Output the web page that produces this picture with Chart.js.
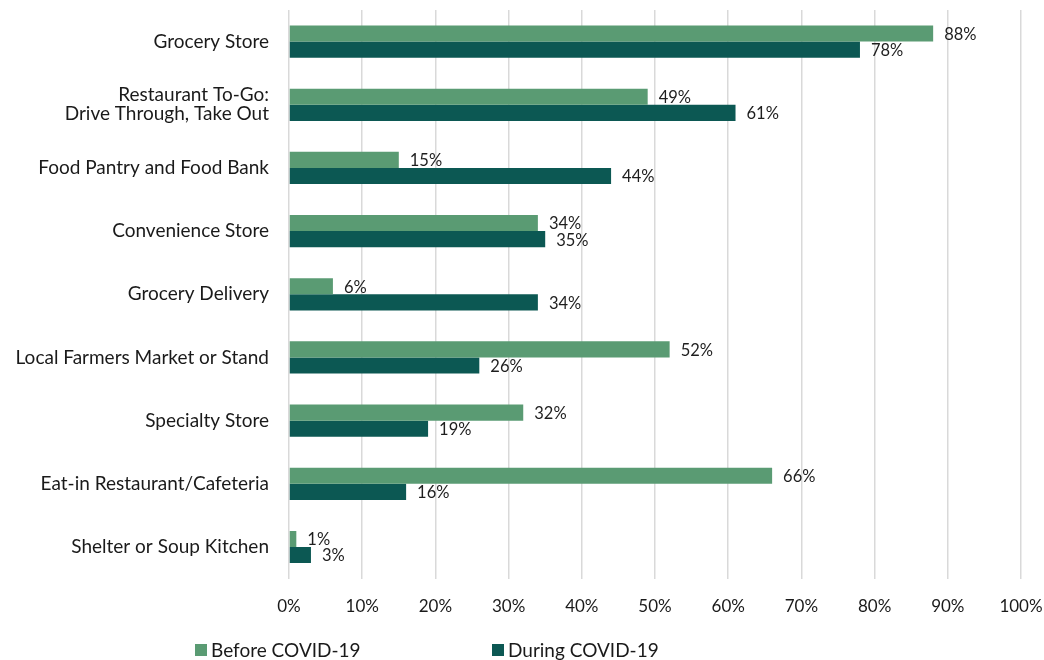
<!DOCTYPE html>
<html>
<head>
<meta charset="utf-8">
<script src="https://cdn.jsdelivr.net/npm/chart.js@4/dist/chart.umd.min.js"></script>
<style>
  html, body { margin: 0; padding: 0; background: #fff; }
  #wrap { width: 1044px; height: 660px; position: relative; }
</style>
</head>
<body>
<div id="wrap"><canvas id="chart"></canvas></div>
<script>
// categories, top to bottom
var places = [
    "Grocery Store",
    ["Restaurant To-Go:", "Drive Through, Take Out"],
    "Food Pantry and Food Bank",
    "Convenience Store",
    "Grocery Delivery",
    "Local Farmers Market or Stand",
    "Specialty Store",
    "Eat-in Restaurant/Cafeteria",
    "Shelter or Soup Kitchen"
];
var beforeCovid = [88, 49, 15, 34, 6, 52, 32, 66, 1];
var duringCovid = [78, 61, 44, 35, 34, 26, 19, 16, 3];
var seriesNames = ["Before COVID-19", "During COVID-19"];
var xTicks = [0, 10, 20, 30, 40, 50, 60, 70, 80, 90, 100];

var FONT = "Lato";

//Writes the % value right after each bar
var barLabels = {
    id: 'barLabels',
    afterDatasetsDraw: function(chart){
        var ctx = chart.ctx;
        ctx.save();
        ctx.font = "16.5px " + FONT;
        ctx.fillStyle = "#1e1e1e";
        ctx.textAlign = "left";
        ctx.textBaseline = "middle";
        chart.data.datasets.forEach(function(ds, i){
            chart.getDatasetMeta(i).data.forEach(function(bar, j){
                ctx.fillText(ds.data[j] + "%", bar.x + 11, bar.y + 1);
            });
        });
        ctx.restore();
    }
};

//Legend is not centered in the reference, so it is drawn by hand
var bottomLegend = {
    id: 'bottomLegend',
    afterDraw: function(chart){
        var ctx = chart.ctx;
        var xs = [195, 492];
        ctx.save();
        ctx.font = "19px " + FONT;
        ctx.textBaseline = "middle";
        ctx.textAlign = "left";
        chart.data.datasets.forEach(function(ds, i){
            ctx.fillStyle = ds.backgroundColor;
            ctx.fillRect(xs[i], 644, 12, 12);
            ctx.fillStyle = "#1a1a1a";
            ctx.fillText(ds.label, xs[i] + 16, 651);
        });
        ctx.restore();
    }
};

var chartData = {
    type: 'bar',
    data: {
        labels: places,
        datasets: [{
            label: seriesNames[0],
            data: beforeCovid,
            backgroundColor: '#5a9b73',
            borderWidth: 0
        }, {
            label: seriesNames[1],
            data: duringCovid,
            backgroundColor: '#0c5853',
            borderWidth: 0
        }]
    },
    options: {
        indexAxis: 'y',
        responsive: true,
        maintainAspectRatio: false,
        animation: false,
        layout: { padding: { top: 10, right: 23, bottom: 25, left: 0 } },
        datasets: { bar: { categoryPercentage: 0.51, barPercentage: 1.0 } },
        plugins: {
            legend: { display: false },
            tooltip: { enabled: false }
        },
        scales: {
            x: {
                min: 0,
                max: 100,
                afterBuildTicks: function(axis){
                    axis.ticks = xTicks.map(function(v){ return {value: v}; });
                },
                ticks: {
                    callback: function(v){ return v + "%"; },
                    color: "#1a1a1a",
                    font: { family: FONT, size: 17 },
                    padding: 18
                },
                grid: { color: "#d9d9d9", lineWidth: 1.5, drawTicks: false },
                border: { display: false },
                afterFit: function(axis){ axis.paddingLeft = 0; axis.paddingRight = 0; }
            },
            y: {
                ticks: {
                    color: "#1a1a1a",
                    font: { family: FONT, size: 19, lineHeight: 1.0 },
                    padding: 20
                },
                grid: { display: false, drawTicks: false },
                border: { display: false },
                afterFit: function(axis){
                    axis.width = 289;
                    axis.paddingTop = 0;
                    axis.paddingBottom = 0;
                }
            }
        }
    },
    plugins: [barLabels, bottomLegend]
};

var ctx = document.getElementById("chart");
var chart = new Chart(ctx, chartData);
</script>
</body>
</html>
